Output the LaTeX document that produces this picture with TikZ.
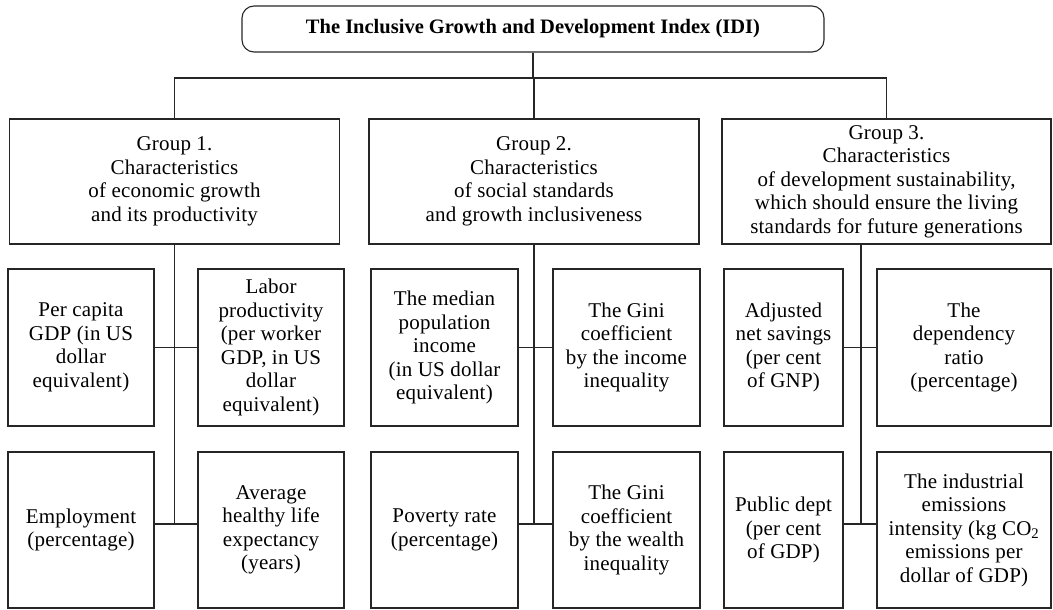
\documentclass[tikz,border=0pt]{standalone}
\usepackage{fontspec}
\setmainfont{Liberation Serif}[LetterSpace=1]
\newfontfamily\ttlfont{Liberation Serif}
\begin{document}
\begin{tikzpicture}[x=1pt,y=-1pt,
  line/.style={draw=black!85,line width=1.1pt},
  box/.style={line,rectangle,inner sep=0pt,align=center,
    font=\fontsize{21}{23.5}\selectfont},
  titlebox/.style={line,rectangle,rounded corners=12pt,inner sep=0pt,align=center,
    font=\ttlfont\bfseries\fontsize{20.5}{23}\selectfont}]
\useasboundingbox (0,0) rectangle (1053,610);
% title
\node[titlebox,minimum width=582pt,minimum height=46pt] (title) at (533,29)
  {The Inclusive Growth and Development Index (IDI)};
% groups
\node[box,minimum width=330pt,minimum height=125pt] (g1) at (174.5,181.5)
  {Group 1.\\Characteristics\\of economic growth\\and its productivity};
\node[box,minimum width=330pt,minimum height=125pt] (g2) at (534,181.5)
  {Group 2.\\Characteristics\\of social standards\\and growth inclusiveness};
\node[box,minimum width=329pt,minimum height=125pt] (g3) at (886.5,181.5)
  {Group 3.\\Characteristics\\of development sustainability,\\which should ensure the living\\standards for future generations};
% leaves, top row
\node[box,minimum width=146pt,minimum height=157pt] (a1) at (81,347.5)
  {Per capita\\GDP (in US\\dollar\\equivalent)};
\node[box,minimum width=146pt,minimum height=157pt] (b1) at (271,347.5)
  {Labor\\productivity\\(per worker\\GDP, in US\\dollar\\equivalent)};
\node[box,minimum width=147pt,minimum height=157pt] (c1) at (444.5,347.5)
  {The median\\population\\income\\(in US dollar\\equivalent)};
\node[box,minimum width=147pt,minimum height=157pt] (d1) at (626.5,347.5)
  {The Gini\\coefficient\\by the income\\inequality};
\node[box,minimum width=119pt,minimum height=157pt] (e1) at (783.5,347.5)
  {Adjusted\\net savings\\(per cent\\of GNP)};
\node[box,minimum width=174pt,minimum height=157pt] (f1) at (964,347.5)
  {The\\dependency\\ratio\\(percentage)};
% leaves, bottom row
\node[box,minimum width=146pt,minimum height=156pt] (a2) at (81,530)
  {Employment\\(percentage)};
\node[box,minimum width=146pt,minimum height=156pt] (b2) at (271,530)
  {Average\\healthy life\\expectancy\\(years)};
\node[box,minimum width=147pt,minimum height=156pt] (c2) at (444.5,530)
  {Poverty rate\\(percentage)};
\node[box,minimum width=147pt,minimum height=156pt] (d2) at (626.5,530)
  {The Gini\\coefficient\\by the wealth\\inequality};
\node[box,minimum width=119pt,minimum height=156pt] (e2) at (783.5,530)
  {Public dept\\(per cent\\of GDP)};
\node[box,minimum width=174pt,minimum height=156pt] (f2) at (964,530)
  {The industrial\\emissions\\intensity (kg CO\textsubscript{2}\\emissions per\\dollar of GDP)};
% helper coordinates
\coordinate (hb) at (533,78);
\coordinate (r2) at (0,524);
\coordinate (v3) at (861,0);
% top connectors
\draw[line] (title.south) -- (title.south |- hb);
\draw[line] (g1.north) -- (g1.north |- hb) -- (g3.north |- hb) -- (g3.north);
\draw[line] (g2.north) -- (g2.north |- hb);
% group 1
\draw[line] (g1.south) -- (g1.south |- r2);
\draw[line] (a1.east) -- (b1.west);
\draw[line] (a2.east |- r2) -- (b2.west |- r2);
% group 2
\draw[line] (g2.south) -- (g2.south |- r2);
\draw[line] (c1.east) -- (d1.west);
\draw[line] (c2.east |- r2) -- (d2.west |- r2);
% group 3
\draw[line] (g3.south -| v3) -- (r2 -| v3);
\draw[line] (e1.east) -- (f1.west);
\draw[line] (e2.east |- r2) -- (f2.west |- r2);
\end{tikzpicture}
\end{document}
